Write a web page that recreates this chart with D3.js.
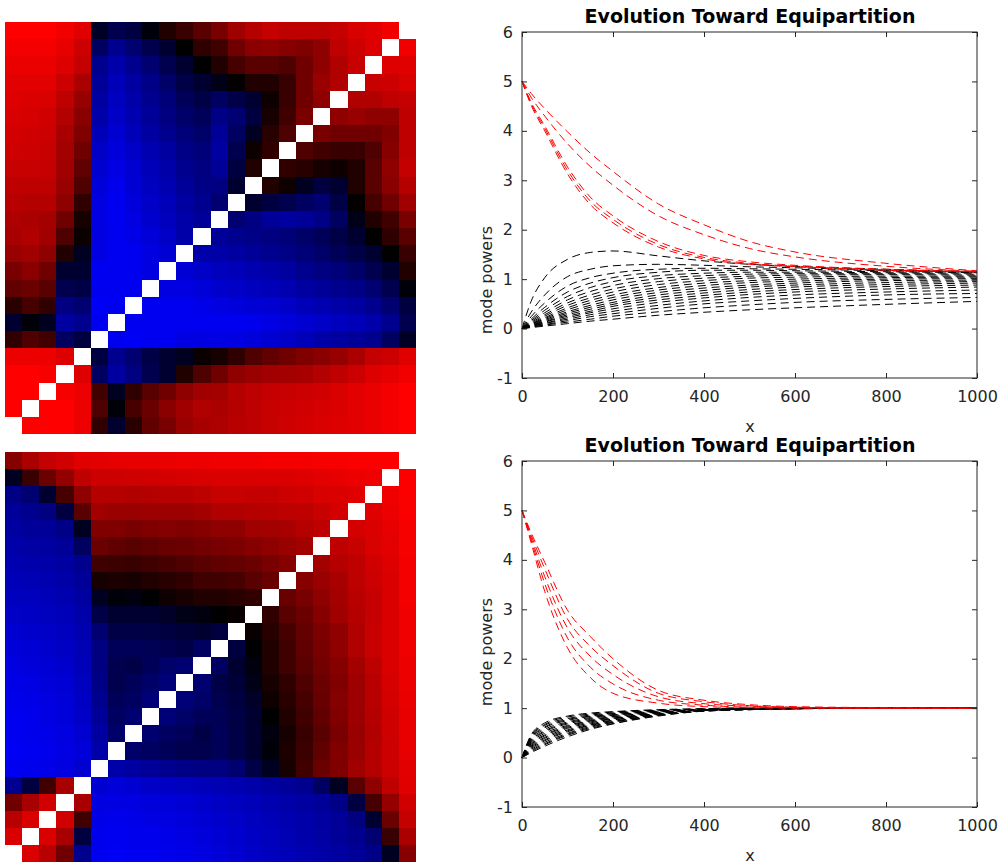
<!DOCTYPE html>
<html>
<head>
<meta charset="utf-8">
<script src="https://cdn.jsdelivr.net/npm/d3@7"></script>
<style>
  body { margin: 0; background: #fff; }
  text { font-family: "DejaVu Sans", sans-serif; fill: #262626; }
</style>
</head>
<body>
<svg id="fig" width="1007" height="868"></svg>
<script>
// Mode correlation matrices (screen rows, top first).
// Only the part above the white diagonal is kept, the rest is mirrored.
var corrTop = [
  [1,1,1,.95,.88,-.15,-.31,-.25,-.04,.13,.22,.35,.47,.63,.71,.77,.75,.75,.74,.77,.85,.88,.94],
  [.96,.96,.96,.90,.80,-.38,-.56,-.44,-.31,-.19,0,.19,.25,.44,.54,.56,.53,.50,.56,.75,.80,.87],
  [.92,.92,.92,.87,.77,-.56,-.66,-.56,-.44,-.31,-.19,0,.13,.28,.35,.35,.31,.44,.56,.69,.78],
  [.89,.89,.89,.80,.67,-.60,-.72,-.63,-.53,-.41,-.28,-.19,-.09,.02,.13,.13,.22,.44,.60,.69],
  [.87,.86,.85,.75,.59,-.63,-.75,-.66,-.56,-.47,-.35,-.28,-.38,-.28,-.19,.06,.22,.44,.56],
  [.85,.84,.82,.70,.54,-.66,-.78,-.69,-.60,-.50,-.41,-.35,-.53,-.44,-.25,.09,.25,.48],
  [.83,.82,.80,.66,.50,-.72,-.82,-.72,-.63,-.56,-.47,-.41,-.60,-.38,-.13,.16,.31],
  [.81,.80,.78,.64,.44,-.78,-.86,-.78,-.69,-.63,-.53,-.47,-.63,-.31,.06,.19],
  [.78,.78,.77,.63,.38,-.82,-.89,-.82,-.72,-.66,-.56,-.50,-.60,-.25,.13],
  [.75,.75,.74,.60,.31,-.85,-.93,-.83,-.75,-.69,-.60,-.53,-.50,-.19],
  [.72,.71,.71,.56,.19,-.88,-.94,-.86,-.78,-.72,-.63,-.56,-.44],
  [.68,.67,.64,.44,.09,-.89,-.94,-.88,-.80,-.74,-.66,-.60],
  [.66,.69,.63,.31,.04,-.88,-.94,-.91,-.85,-.78,-.66],
  [.60,.63,.56,.13,-.13,-.89,-.94,-.94,-.88,-.83],
  [.47,.54,.44,-.19,-.19,-.94,-.94,-.94,-.88],
  [.38,.42,.35,-.31,-.28,-.94,-.94,-.94],
  [.16,.28,.19,-.50,-.44,-.97,-.94],
  [-.19,-.03,-.13,-.63,-.56,-.94],
  [.19,.31,.25,-.38,-.25],
  [.93,.93,.93,.87],
  [1,1,.97],
  [1,1],
  [1]
];

var corrBottom = [
  [.53,.67,.77,.82,.88,.89,.90,.91,.91,.92,.93,.93,.94,.94,.94,.96,.96,.96,.97,.97,.98,.99,.99],
  [-.13,.22,.42,.58,.75,.80,.80,.81,.82,.83,.84,.85,.86,.86,.86,.86,.86,.87,.89,.91,.93,.94],
  [-.53,-.44,-.19,.28,.56,.71,.71,.69,.71,.72,.72,.74,.78,.78,.77,.77,.80,.82,.85,.86,.88],
  [-.60,-.56,-.50,-.25,.35,.63,.60,.60,.61,.61,.61,.64,.69,.69,.71,.72,.74,.75,.78,.83],
  [-.63,-.60,-.60,-.53,-.13,.50,.50,.47,.50,.52,.50,.53,.56,.56,.63,.64,.66,.71,.75],
  [-.66,-.64,-.63,-.60,-.38,.42,.38,.35,.38,.41,.42,.45,.47,.49,.53,.56,.60,.64],
  [-.69,-.67,-.66,-.63,-.56,.25,.23,.22,.25,.28,.31,.35,.38,.39,.42,.47,.53],
  [-.72,-.71,-.69,-.66,-.60,.09,.11,.09,.13,.16,.19,.25,.25,.28,.35,.41],
  [-.75,-.74,-.72,-.69,-.63,-.13,-.03,-.06,0,.06,.09,.13,.13,.16,.19],
  [-.78,-.77,-.75,-.72,-.66,-.28,-.19,-.19,-.19,-.16,-.09,-.06,0,.03],
  [-.82,-.80,-.78,-.75,-.69,-.44,-.28,-.28,-.27,-.25,-.22,-.19,-.25],
  [-.85,-.83,-.80,-.77,-.71,-.50,-.35,-.35,-.33,-.31,-.28,-.38],
  [-.88,-.86,-.83,-.80,-.72,-.50,-.31,-.28,-.35,-.41,-.44],
  [-.91,-.89,-.86,-.83,-.75,-.53,-.31,-.35,-.41,-.47],
  [-.92,-.91,-.88,-.85,-.77,-.56,-.35,-.38,-.47],
  [-.94,-.93,-.89,-.86,-.78,-.60,-.38,-.44],
  [-.94,-.93,-.91,-.88,-.82,-.63,-.41],
  [-.96,-.94,-.93,-.89,-.85,-.66],
  [-.94,-.93,-.91,-.88,-.82],
  [-.56,-.25,.25,.66],
  [.44,.66,.82],
  [.72,.85],
  [.86]
];

// x positions where the mode power curves were sampled
var steps = [0, 20, 50, 100, 150, 200, 300, 400, 500, 600, 800, 1000];

var topRed = [
  [5,4.76,4.45,3.98,3.55,3.18,2.52,2.10,1.76,1.55,1.32,1.17],
  [5,4.68,4.30,3.74,3.28,2.90,2.28,1.90,1.62,1.45,1.26,1.16],
  [5,4.58,4.10,3.27,2.66,2.28,1.76,1.48,1.35,1.28,1.20,1.15],
  [5,4.55,4.05,3.20,2.58,2.21,1.70,1.44,1.32,1.26,1.19,1.15],
  [5,4.52,4.00,3.13,2.51,2.14,1.65,1.41,1.30,1.25,1.18,1.15]
];

var topBlack = [
  [0,0.55,1.03,1.40,1.54,1.57,1.47,1.37,1.30,1.26,1.20,1.15],
  [0,0.33,0.68,1.05,1.20,1.27,1.30,1.28,1.25,1.23,1.18,1.14],
  [0,0.24,0.52,0.86,1.03,1.12,1.20,1.22,1.21,1.20,1.17,1.14],
  [0,0.19,0.43,0.74,0.92,1.03,1.14,1.18,1.18,1.17,1.15,1.13],
  [0,0.16,0.37,0.65,0.83,0.95,1.07,1.12,1.14,1.14,1.13,1.12],
  [0,0.14,0.32,0.58,0.75,0.87,1.01,1.07,1.10,1.11,1.11,1.10],
  [0,0.12,0.28,0.52,0.68,0.80,0.95,1.02,1.06,1.08,1.09,1.08],
  [0,0.10,0.25,0.47,0.62,0.74,0.89,0.97,1.02,1.04,1.06,1.06],
  [0,0.09,0.22,0.42,0.57,0.68,0.83,0.92,0.97,1.00,1.03,1.04],
  [0,0.08,0.20,0.38,0.52,0.63,0.78,0.87,0.93,0.96,1.00,1.01],
  [0,0.07,0.18,0.34,0.47,0.58,0.73,0.82,0.88,0.92,0.97,0.98],
  [0,0.06,0.16,0.31,0.43,0.53,0.68,0.77,0.84,0.88,0.93,0.95],
  [0,0.06,0.14,0.28,0.39,0.49,0.63,0.72,0.79,0.84,0.89,0.92],
  [0,0.05,0.13,0.25,0.35,0.45,0.58,0.67,0.74,0.79,0.85,0.88],
  [0,0.05,0.11,0.22,0.32,0.40,0.53,0.62,0.69,0.74,0.80,0.84],
  [0,0.04,0.10,0.19,0.28,0.35,0.47,0.56,0.63,0.68,0.74,0.78],
  [0,0.03,0.08,0.16,0.24,0.30,0.41,0.50,0.56,0.61,0.68,0.71],
  [0,0.03,0.07,0.13,0.19,0.25,0.34,0.42,0.48,0.53,0.59,0.63],
  [0,0.02,0.05,0.10,0.15,0.19,0.27,0.33,0.38,0.42,0.49,0.55]
];

var bottomRed = [
  [5,4.55,3.95,2.98,2.45,2.00,1.36,1.16,1.07,1.03,1.01,1.00],
  [5,4.50,3.82,2.80,2.25,1.86,1.30,1.13,1.05,1.02,1.00,1.00],
  [5,4.45,3.66,2.62,2.05,1.68,1.23,1.09,1.04,1.01,1.00,1.00],
  [5,4.40,3.52,2.42,1.83,1.49,1.16,1.06,1.02,1.01,1.00,1.00],
  [5,4.35,3.36,2.22,1.62,1.30,1.10,1.03,1.01,1.00,1.00,1.00]
];

var bottomBlack = [
  [0,0.46,0.70,0.84,0.90,0.93,0.97,0.99,1.00,1.00,1,1],
  [0,0.44,0.67,0.82,0.88,0.92,0.96,0.98,0.99,1.00,1,1],
  [0,0.42,0.65,0.79,0.86,0.90,0.96,0.98,0.99,1.00,1,1],
  [0,0.40,0.62,0.77,0.84,0.89,0.95,0.98,0.99,1.00,1,1],
  [0,0.38,0.60,0.75,0.83,0.87,0.94,0.97,0.99,1.00,1,1],
  [0,0.36,0.57,0.72,0.81,0.86,0.94,0.97,0.99,0.99,1,1],
  [0,0.34,0.54,0.70,0.79,0.85,0.93,0.97,0.99,0.99,1,1],
  [0,0.32,0.52,0.68,0.77,0.83,0.92,0.96,0.99,0.99,1,1],
  [0,0.30,0.49,0.65,0.75,0.82,0.92,0.96,0.98,0.99,1,1],
  [0,0.28,0.46,0.63,0.74,0.80,0.91,0.96,0.98,0.99,1,1],
  [0,0.26,0.44,0.61,0.72,0.79,0.90,0.96,0.98,0.99,1,1],
  [0,0.24,0.41,0.59,0.70,0.78,0.89,0.95,0.98,0.99,1,1],
  [0,0.22,0.39,0.56,0.68,0.76,0.89,0.95,0.98,0.99,1,1],
  [0,0.20,0.36,0.54,0.66,0.75,0.88,0.95,0.98,0.99,1,1],
  [0,0.18,0.34,0.52,0.65,0.73,0.87,0.95,0.98,0.99,1,1],
  [0,0.16,0.31,0.49,0.63,0.72,0.87,0.94,0.97,0.99,1,1],
  [0,0.14,0.28,0.47,0.61,0.71,0.86,0.94,0.97,0.99,1,1],
  [0,0.12,0.26,0.45,0.59,0.69,0.85,0.94,0.97,0.99,1,1],
  [0,0.10,0.23,0.42,0.57,0.68,0.84,0.94,0.97,0.99,1,1]
];

var yTicks = [-1, 0, 1, 2, 3, 4, 5, 6];
var xTicks = [0, 200, 400, 600, 800, 1000];
var titleText = "Evolution Toward Equipartition";

var svg = d3.select("#fig");
var n = 24;

// red - black - blue colour map
var colour = d3.scaleLinear()
  .domain([-1, 0, 1])
  .range(["#0000ff", "#000000", "#ff0000"]);

// the matrix is symmetric, so cells under the diagonal come from the mirror cell
function cellValue(tri, r, c) {
  if (r + c < n - 1) return tri[r][c];
  if (r + c == n - 1) return null;
  return tri[n - 1 - c][n - 1 - r];
}

function drawMatrix(tri, top, bottom) {
  var idx = d3.range(n);
  var xs = d3.scaleBand().domain(idx).range([5, 416]);
  var ys = d3.scaleBand().domain(idx).range([top, bottom]);
  var cells = [];
  idx.forEach(function(r) {
    idx.forEach(function(c) {
      cells.push({ r: r, c: c, v: cellValue(tri, r, c) });
    });
  });
  svg.append("g")
    .attr("shape-rendering", "crispEdges")
    .selectAll("rect")
    .data(cells)
    .enter()
    .append("rect")
    .attr("x", function(d) { return Math.round(xs(d.c)); })
    .attr("y", function(d) { return Math.round(ys(d.r)); })
    .attr("width", function(d) { return Math.round(xs(d.c) + xs.bandwidth()) - Math.round(xs(d.c)); })
    .attr("height", function(d) { return Math.round(ys(d.r) + ys.bandwidth()) - Math.round(ys(d.r)); })
    .attr("fill", function(d) { return d.v === null ? "#ffffff" : colour(d.v); });
}

function drawPlot(top, bottom, red, black, labelY) {
  var x = d3.scaleLinear().domain([0, 1000]).range([522, 977]);
  var y = d3.scaleLinear().domain([-1, 6]).range([bottom, top]);
  var g = svg.append("g");

  var line = d3.line()
    .x(function(d, i) { return x(steps[i]); })
    .y(function(d) { return y(d); })
    .curve(d3.curveMonotoneX);

  g.selectAll("path.black")
    .data(black)
    .enter()
    .append("path")
    .attr("class", "black")
    .attr("d", line)
    .attr("fill", "none")
    .attr("stroke", "#000")
    .attr("stroke-width", 1)
    .attr("stroke-dasharray", "8,5");

  g.selectAll("path.red")
    .data(red)
    .enter()
    .append("path")
    .attr("class", "red")
    .attr("d", line)
    .attr("fill", "none")
    .attr("stroke", "#ff0000")
    .attr("stroke-width", 1)
    .attr("stroke-dasharray", "8,5");

  var fmt = function(d) { return String(d); };

  // matlab style box, ticks pointing inside
  g.append("g")
    .attr("transform", "translate(0," + bottom + ")")
    .call(d3.axisBottom(x).tickValues(xTicks).tickSize(-5).tickPadding(13).tickFormat(fmt))
    .call(styleAxis);
  g.append("g")
    .attr("transform", "translate(0," + top + ")")
    .call(d3.axisTop(x).tickValues(xTicks).tickSize(-5).tickFormat(""))
    .call(styleAxis);
  g.append("g")
    .attr("transform", "translate(522,0)")
    .call(d3.axisLeft(y).tickValues(yTicks).tickSize(-5).tickPadding(9).tickFormat(fmt))
    .call(styleAxis);
  g.append("g")
    .attr("transform", "translate(977,0)")
    .call(d3.axisRight(y).tickValues(yTicks).tickSize(-5).tickFormat(""))
    .call(styleAxis);

  g.append("rect")
    .attr("x", 522).attr("y", top)
    .attr("width", 455).attr("height", bottom - top)
    .attr("fill", "none")
    .attr("stroke", "#262626")
    .attr("stroke-width", 1);

  g.append("text")
    .attr("x", 750).attr("y", top - 15)
    .attr("text-anchor", "middle")
    .attr("dominant-baseline", "middle")
    .style("font-size", "19px")
    .style("font-weight", "bold")
    .style("fill", "#000")
    .text(titleText);

  g.append("text")
    .attr("x", 750).attr("y", bottom + 49)
    .attr("text-anchor", "middle")
    .attr("dominant-baseline", "middle")
    .style("font-size", "16px")
    .text("x");

  g.append("text")
    .attr("transform", "translate(487," + labelY + ") rotate(-90)")
    .attr("text-anchor", "middle")
    .attr("dominant-baseline", "middle")
    .style("font-size", "16px")
    .text("mode powers");
}

function styleAxis(sel) {
  sel.select(".domain").remove();
  sel.selectAll(".tick line").attr("stroke", "#262626");
  sel.selectAll(".tick text")
    .style("font-size", "16px")
    .style("font-family", "'DejaVu Sans', sans-serif")
    .attr("fill", "#262626");
}

drawMatrix(corrTop, 22, 434);
drawMatrix(corrBottom, 452, 862);
drawPlot(32, 378, topRed, topBlack, 280);
drawPlot(461, 807, bottomRed, bottomBlack, 652);
</script>
</body>
</html>
